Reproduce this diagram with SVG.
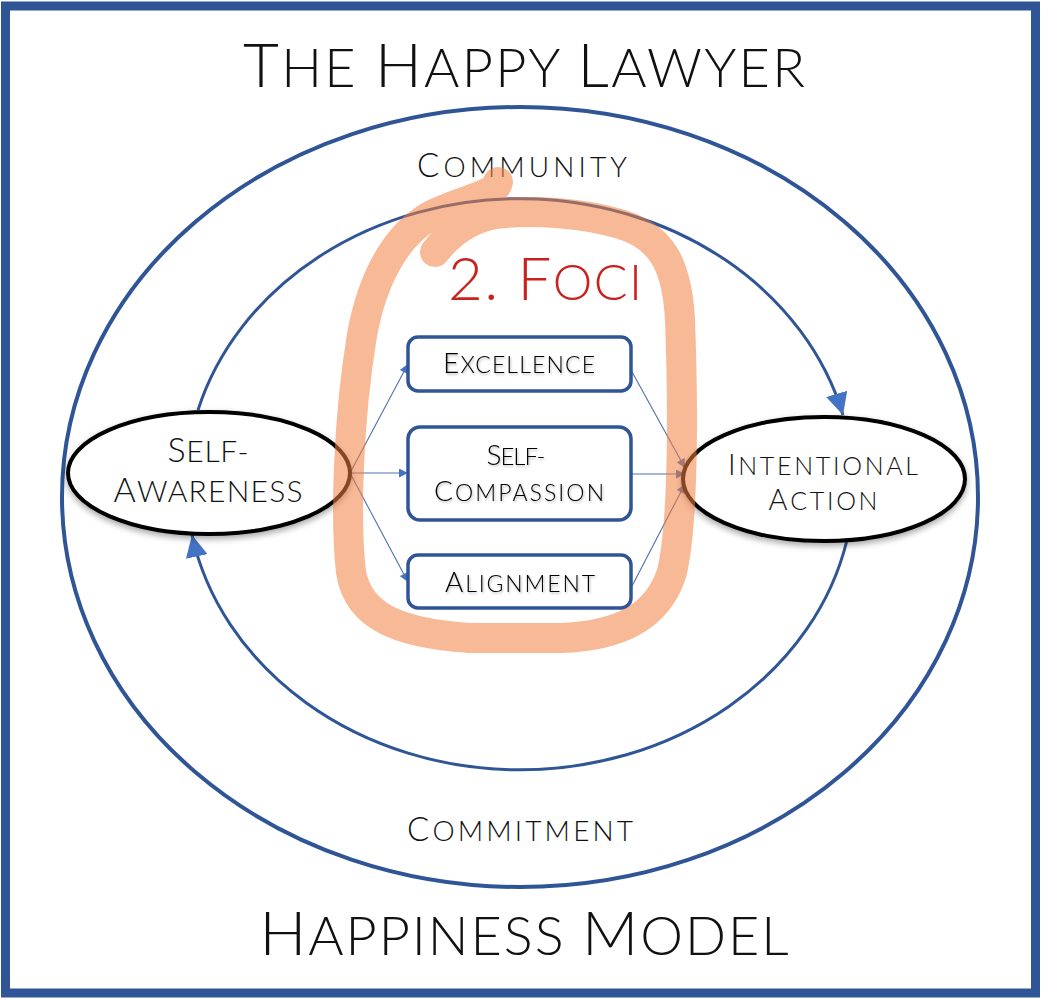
<svg xmlns="http://www.w3.org/2000/svg" width="1043" height="1000" viewBox="0 0 1043 1000">
<style>
  .t { font-family: "Lato", "Open Sans", "Liberation Sans", sans-serif; fill: #111; text-transform: uppercase; text-anchor: middle; font-weight: 300; }
  .bx { fill: #000; }
  .node-ellipse { fill: #fff; stroke: #000; stroke-width: 4; }
  .box { fill: #fff; stroke: #2F5597; stroke-width: 3.5; }
  .ring { fill: none; stroke: #2F5597; }
  .conn { fill: none; stroke: #4F6FAE; stroke-width: 1.1; }
  .hl { fill: none; stroke: #F08040; stroke-opacity: 0.55; stroke-width: 30; stroke-linecap: round; stroke-linejoin: round; }
</style>
<defs>
  <marker id="bigArrow" viewBox="0 0 20 20" refX="20" refY="10" markerUnits="userSpaceOnUse" markerWidth="22" markerHeight="22" orient="auto">
    <path d="M0,0 L20,10 L0,20 Z" fill="#4472C4"/>
  </marker>
  <marker id="smallArrow" viewBox="0 0 10 10" refX="10" refY="5" markerUnits="userSpaceOnUse" markerWidth="10" markerHeight="9" orient="auto">
    <path d="M0,0 L10,5 L0,10 Z" fill="#4472C4"/>
  </marker>
  <filter id="shadow" x="-20%" y="-20%" width="140%" height="160%">
    <feDropShadow dx="0" dy="3" stdDeviation="3" flood-color="#000" flood-opacity="0.35"/>
  </filter>
  <filter id="txtShadow" x="-10%" y="-20%" width="120%" height="160%">
    <feDropShadow dx="1" dy="1.5" stdDeviation="1" flood-color="#000" flood-opacity="0.3"/>
  </filter>
</defs>

<rect width="1043" height="1000" fill="#fff"/>
<rect x="5.5" y="6" width="1030" height="987" fill="none" stroke="#2F5597" stroke-width="9"/>

<!-- Titles -->
<text class="t" x="524" y="87" font-size="54" textLength="562"><tspan font-size="62">T</tspan>he <tspan font-size="62">H</tspan>appy <tspan font-size="62">L</tspan>awyer</text>
<text class="t" x="524" y="955" font-size="54" textLength="529"><tspan font-size="62">H</tspan>appiness <tspan font-size="62">M</tspan>odel</text>

<!-- Outer ring -->
<ellipse class="ring" cx="520" cy="497" rx="458" ry="390" stroke-width="4"/>
<text class="t" x="522" y="177" font-size="28" textLength="210"><tspan font-size="33">C</tspan>ommunity</text>
<text class="t" x="520" y="841" font-size="28" textLength="226"><tspan font-size="33">C</tspan>ommitment</text>

<!-- Connectors -->
<g id="connectors">
  <path class="ring" stroke-width="3" d="M198,410 A334,289 0 0 1 843,415" marker-end="url(#bigArrow)"/>
  <path class="ring" stroke-width="3" d="M847,540 A334,289 0 0 1 192,535" marker-end="url(#bigArrow)"/>
  <line class="conn" x1="350" y1="473" x2="408" y2="364" marker-end="url(#smallArrow)"/>
  <line class="conn" x1="350" y1="473" x2="408" y2="473" marker-end="url(#smallArrow)"/>
  <line class="conn" x1="350" y1="473" x2="408" y2="582" marker-end="url(#smallArrow)"/>
  <line class="conn" x1="631" y1="370" x2="685" y2="468" marker-end="url(#smallArrow)"/>
  <line class="conn" x1="631" y1="474" x2="685" y2="474" marker-end="url(#smallArrow)"/>
  <line class="conn" x1="631" y1="588" x2="685" y2="484" marker-end="url(#smallArrow)"/>
</g>

<!-- Nodes -->
<g id="self-awareness">
  <ellipse class="node-ellipse" cx="209" cy="473" rx="141" ry="61" filter="url(#shadow)"/>
  <text class="t" x="208" y="462" font-size="30" textLength="81"><tspan font-size="34">S</tspan>elf-</text>
  <text class="t" x="208" y="502" font-size="30" textLength="189"><tspan font-size="34">A</tspan>wareness</text>
</g>
<g id="intentional-action">
  <ellipse class="node-ellipse" cx="824" cy="479" rx="141" ry="62" filter="url(#shadow)"/>
  <text class="t" x="823" y="475" font-size="25" textLength="190"><tspan font-size="29">I</tspan>ntentional</text>
  <text class="t" x="823" y="510" font-size="25" textLength="109"><tspan font-size="29">A</tspan>ction</text>
</g>
<g id="excellence">
  <rect class="box" x="408" y="337" width="223" height="54" rx="10"/>
  <text class="t bx" x="519" y="373" font-size="23" textLength="152" filter="url(#txtShadow)"><tspan font-size="28">E</tspan>xcellence</text>
</g>
<g id="self-compassion">
  <rect class="box" x="408" y="427" width="223" height="93" rx="12"/>
  <text class="t bx" x="516" y="465" font-size="24" textLength="59" filter="url(#txtShadow)"><tspan font-size="28">S</tspan>elf-</text>
  <text class="t bx" x="519" y="501" font-size="23" textLength="170" filter="url(#txtShadow)"><tspan font-size="28">C</tspan>ompassion</text>
</g>
<g id="alignment">
  <rect class="box" x="408" y="555" width="223" height="53" rx="10"/>
  <text class="t bx" x="520" y="592" font-size="23" textLength="150" filter="url(#txtShadow)"><tspan font-size="28">A</tspan>lignment</text>
</g>

<!-- Orange highlight loop -->
<path class="hl" d="M498,182 C496,196 460,200 430,216 C395,236 372,280 362,335 C348,420 345,520 351,572 C358,615 395,633 470,638 L560,638 C620,636 658,617 672,572 C684,520 683,400 680,320 C677,262 660,236 620,224 C580,212 530,210 495,214 C468,219 448,235 435,252"/>

<g id="foci">
  <text class="t" x="545" y="300" style="fill:#C9211E" font-size="50" textLength="194"><tspan font-size="60">2. F</tspan>oci</text>
</g>
</svg>
